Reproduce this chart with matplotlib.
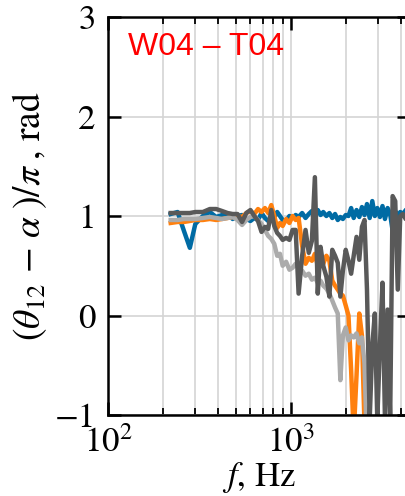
import numpy as np
import matplotlib
matplotlib.use("Agg")
import matplotlib.pyplot as plt
from matplotlib.ticker import LogLocator, NullFormatter

# frequencies (Hz) shared by all four curves
freq = [220, 240, 260, 280, 300, 330, 360, 390, 420, 450, 480, 510, 540, 570,
        600, 630, 660, 690, 720, 750, 780, 810, 840, 870, 900, 940, 980, 1020,
        1060, 1100, 1150, 1200, 1250, 1300, 1350, 1400, 1450, 1500, 1560, 1620,
        1680, 1740, 1800, 1860, 1920, 1990, 2060, 2130, 2200, 2280, 2360, 2440,
        2520, 2600, 2690, 2780, 2870, 2960, 3060, 3160, 3260, 3370, 3480, 3590,
        3710, 3830, 3950, 4080, 4200]

# (theta_12 - alpha)/pi for each sensor pair
phase_blue = [1.02, 1.04, 0.85, 0.68, 0.92, 1.00, 1.04, 0.99, 1.01, 1.02, 0.97,
              1.00, 1.01, 0.97, 0.95, 0.98, 0.96, 1.03, 0.98, 0.95, 0.97, 0.99,
              1.04, 1.00, 0.96, 0.95, 1.00, 0.98, 1.01, 0.99, 1.03, 0.98, 1.02,
              1.05, 0.99, 1.06, 1.01, 1.04, 1.00, 1.03, 0.98, 1.02, 0.96, 0.99,
              0.97, 1.01, 1.00, 1.08, 0.98, 1.06, 0.99, 1.09, 1.01, 1.12, 0.98,
              1.15, 1.00, 1.08, 0.99, 1.10, 0.97, 1.08, 1.02, 0.85, 1.05, 1.00,
              1.04, 1.02, 1.05]
phase_orange = [0.93, 0.94, 0.94, 0.95, 0.96, 0.96, 0.97, 0.96, 0.97, 0.98, 0.99,
                1.00, 0.99, 1.03, 1.05, 1.02, 1.07, 1.04, 1.08, 1.03, 1.11, 1.00,
                0.88, 0.93, 0.90, 0.97, 0.93, 1.00, 0.96, 0.98, 0.70, 0.52, 0.58,
                0.55, 0.62, 0.50, 0.56, 0.52, 0.60, 0.55, 0.35, 0.30, 0.26, 0.22,
                0.20, 0.10, 0.00, -0.55, -1.20, -0.60, 0.02, -0.20, -1.10, -1.40,
                -1.50, -1.60, -1.50, -1.60, -1.70, -1.60, -1.70, -1.80, -1.70,
                -1.80, -1.90, -1.80, -1.90, -2.00, -1.90]
phase_lgray = [0.96, 0.96, 0.97, 0.97, 0.97, 0.98, 0.99, 0.98, 0.97, 0.98, 0.99,
               0.96, 0.91, 0.96, 0.99, 1.00, 0.96, 0.92, 0.86, 0.80, 0.77, 0.72,
               0.60, 0.62, 0.50, 0.54, 0.46, 0.48, 0.52, 0.47, 0.45, 0.40, 0.42,
               0.36, 0.38, 0.33, 0.35, 0.30, 0.27, 0.22, 0.15, 0.08, 0.02, -0.65,
               -0.20, -0.12, -0.25, -0.20, -0.22, -0.18, -0.28, -0.22, -0.48,
               -1.30, -1.40, -1.50, -1.40, -1.50, -1.60, -1.50, -1.60, -1.70,
               -1.60, -1.70, -1.80, -1.70, -1.80, -1.90, -1.80]
phase_dgray = [1.03, 1.03, 1.03, 1.03, 1.04, 1.04, 1.07, 1.07, 1.05, 1.03, 1.02,
               1.02, 0.94, 1.03, 1.06, 1.00, 0.95, 0.84, 0.89, 0.87, 1.06, 0.90,
               0.83, 0.80, 0.76, 0.78, 0.76, 0.86, 0.86, 0.22, 0.60, 0.86, 0.63,
               0.75, 1.39, 0.22, 0.69, 0.50, 0.39, 0.19, 0.66, 0.60, 0.53, 0.19,
               0.45, 0.66, 0.55, 0.42, 0.60, 0.79, 0.56, 0.89, 0.96, 0.26, -1.05,
               -0.30, 0.02, -1.05, -0.30, 0.33, -1.05, 0.06, -1.05, 1.20, 1.15,
               0.26, 1.00, 1.02, 0.98]

series = [(phase_blue, '#006BA4'), (phase_orange, '#FF800E'),
          (phase_lgray, '#ABABAB'), (phase_dgray, '#595959')]

plt.rcParams['font.family'] = ['STIXGeneral', 'DejaVu Serif']
plt.rcParams['mathtext.fontset'] = 'stix'

fig = plt.figure(figsize=(4.05, 4.96), dpi=100)
# axes runs a little past the right edge of the figure (cropped panel)
ax = fig.add_axes([108 / 405, 81 / 496, 302 / 405, 398 / 496])

for vals, col in series:
    ax.plot(freq, vals, color=col, lw=3.2)

ax.set_xscale('log')
ax.set_xlim(100, 4467)
ax.set_ylim(-1, 3)
ax.set_yticks([-1, 0, 1, 2, 3])
ax.xaxis.set_major_locator(LogLocator(base=10))
ax.xaxis.set_minor_locator(LogLocator(base=10, subs=np.arange(2, 10)))
ax.xaxis.set_minor_formatter(NullFormatter())

ax.grid(True, which='major', color='#d4d4d4', lw=1.2)
ax.grid(True, which='minor', axis='x', color='#d4d4d4', lw=1.2)
ax.set_axisbelow(True)

ax.tick_params(which='both', direction='in', top=True, right=True,
               labelsize=25, pad=9)
ax.tick_params(which='major', length=9.5, width=1.8)
ax.tick_params(which='minor', length=5, width=1.3)
for sp in ax.spines.values():
    sp.set_linewidth(1.8)

ax.set_xlabel(r'$f$, Hz', fontsize=25, labelpad=0)
ax.set_ylabel(r'$(\theta_{12}\, -\, \alpha\;)/\pi\;$, rad', fontsize=27, labelpad=4)

ax.text(0.066, 0.905, 'W04 – T04', transform=ax.transAxes, color='red',
        fontsize=23, family=['Liberation Sans', 'DejaVu Sans'],
        ha='left', va='baseline')

fig.savefig('out.png', dpi=100)
